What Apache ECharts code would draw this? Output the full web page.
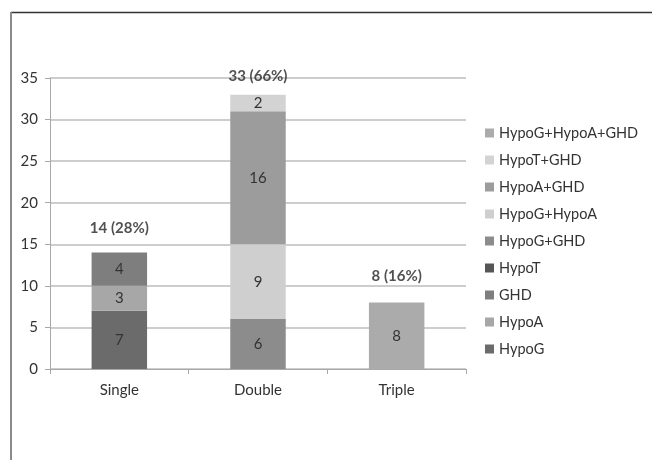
<!DOCTYPE html>
<html>
<head>
<meta charset="utf-8">
<script src="https://cdn.jsdelivr.net/npm/echarts@6/dist/echarts.min.js"></script>
<style>
  html, body { margin: 0; padding: 0; background: #fff; }
  #chart { width: 652px; height: 460px; }
</style>
</head>
<body>
<div id="chart"></div>
<script>
// categories and values
var categories = ['Single', 'Double', 'Triple'];

var seriesNames = ['HypoG', 'HypoA', 'GHD', 'HypoT', 'HypoG+GHD',
                   'HypoG+HypoA', 'HypoA+GHD', 'HypoT+GHD', 'HypoG+HypoA+GHD'];
var hypoG        = [7, 0, 0];
var hypoA        = [3, 0, 0];
var ghd          = [4, 0, 0];
var hypoT        = [0, 0, 0];
var hypoGGhd     = [0, 6, 0];
var hypoGHypoA   = [0, 9, 0];
var hypoAGhd     = [0, 16, 0];
var hypoTGhd     = [0, 2, 0];
var hypoGHypoAGhd = [0, 0, 8];

var totals      = [14, 33, 8];
var totalLabels = ['14 (28%)', '33 (66%)', '8 (16%)'];

var yTicks = [0, 5, 10, 15, 20, 25, 30, 35];

var seriesValues = [hypoG, hypoA, ghd, hypoT, hypoGGhd, hypoGHypoA, hypoAGhd, hypoTGhd, hypoGHypoAGhd];
var seriesColors = ['#6b6b6b', '#a7a7a7', '#7e7e7e', '#565656', '#8c8c8c',
                    '#cfcfcf', '#9c9c9c', '#d3d3d3', '#ababab'];
// 总数标签离柱顶的距离 (原图各不相同)
var totalOffsets = [24, 18, 26];

var font = 'Lato, "Open Sans", sans-serif';

var myChart = echarts.init(document.getElementById('chart'));

var series = [];
for (var i = 0; i < seriesNames.length; i++) {
    series.push({
        name: seriesNames[i],
        type: 'bar',
        stack: 'total',
        barWidth: '40%',
        itemStyle: { color: seriesColors[i] },
        label: {
            show: true,
            position: 'inside',
            color: '#333',
            fontSize: 15,
            fontFamily: font,
            formatter: function (p) { return p.value > 0 ? p.value : ''; }
        },
        data: seriesValues[i]
    });
}

// 总数标签
var totalData = [];
for (var i = 0; i < totals.length; i++) {
    totalData.push({
        value: totals[i],
        label: { offset: [0, -totalOffsets[i]] }
    });
}
series.push({
    name: 'total',
    type: 'scatter',
    symbolSize: 0,
    silent: true,
    z: 5,
    label: {
        show: true,
        position: 'inside',
        fontSize: 15,
        fontWeight: 'bold',
        color: '#262626',
        fontFamily: font,
        formatter: function (p) { return totalLabels[p.dataIndex]; }
    },
    data: totalData
});

var option = {
    animation: false,
    backgroundColor: '#fff',
    textStyle: { fontFamily: font },
    grid: { left: 50, right: 186, top: 78, bottom: 91 },
    legend: {
        orient: 'vertical',
        left: 480,
        top: 120,
        itemWidth: 9,
        itemHeight: 9,
        itemGap: 11,
        icon: 'rect',
        textStyle: { fontSize: 14.5, color: '#333', fontFamily: font, lineHeight: 16 },
        data: seriesNames.slice().reverse()
    },
    xAxis: {
        type: 'category',
        data: categories,
        axisLine: { lineStyle: { color: '#a8a8a8', width: 1 } },
        axisTick: { show: true, length: 5, lineStyle: { color: '#a8a8a8' } },
        axisLabel: { color: '#333', fontSize: 15, fontFamily: font, margin: 14 }
    },
    yAxis: {
        type: 'value',
        min: yTicks[0],
        max: yTicks[yTicks.length - 1],
        interval: 5,
        axisLine: { show: true, lineStyle: { color: '#a8a8a8', width: 1 } },
        axisTick: { show: true, length: 5, lineStyle: { color: '#a8a8a8' } },
        axisLabel: { color: '#333', fontSize: 15, fontFamily: font, margin: 12 },
        splitLine: { lineStyle: { color: '#bdbdbd', width: 1.5 } }
    },
    graphic: [
        { type: 'line', shape: { x1: 11, y1: 12.5, x2: 652, y2: 12.5 }, style: { stroke: '#333', lineWidth: 1.5 } },
        { type: 'line', shape: { x1: 11, y1: 12, x2: 11, y2: 460 }, style: { stroke: '#8a8a8a', lineWidth: 2 } }
    ],
    series: series
};

myChart.setOption(option);
</script>
</body>
</html>
